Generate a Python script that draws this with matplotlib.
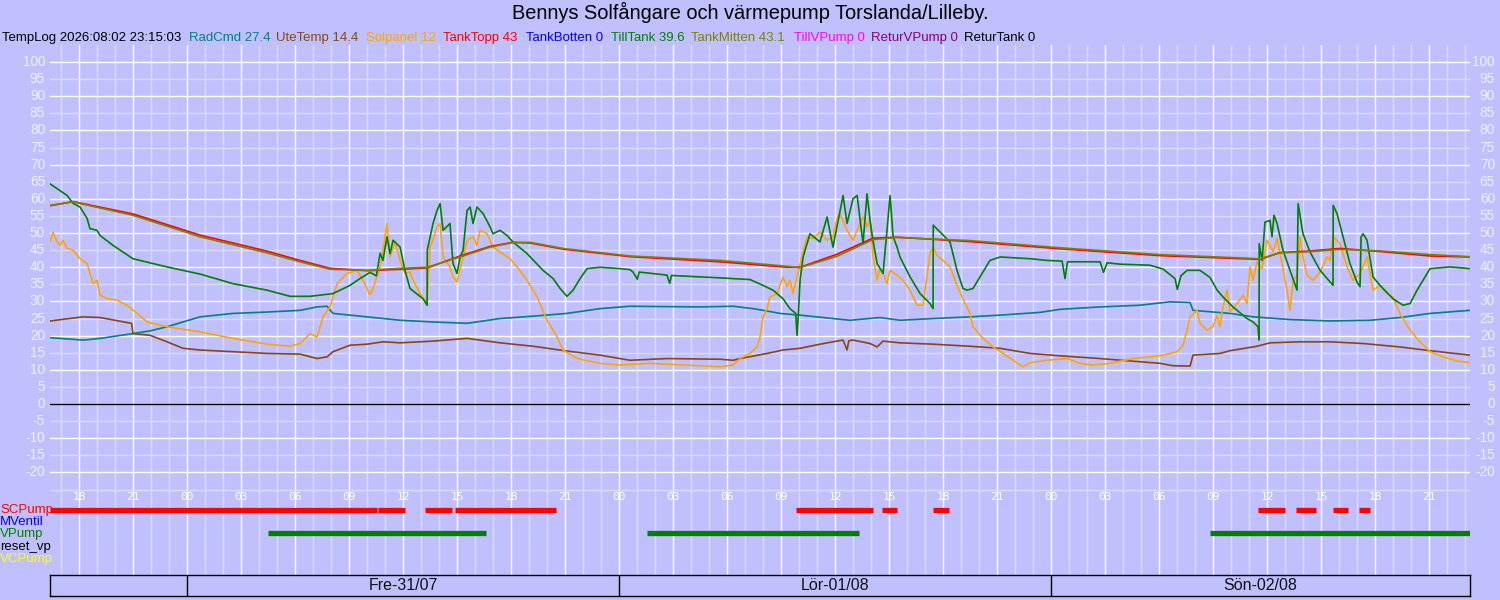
import matplotlib
matplotlib.use("Agg")
import matplotlib.pyplot as plt

plt.rcParams['font.family'] = ['Liberation Sans', 'DejaVu Sans']

BG = '#C0C0FF'
MINOR = '#DCDCFF'

# ---------------- data (hours since Fre 31/07 00:00) ----------------
mitten_t = [-7.63, -6.35, -3.02, 0.71, 4.43, 6.26, 7.93, 9.98, 11.82, 13.32, 15.15, 16.82, 18.09, 19.04,
            20.87, 24.59, 29.59, 33.32, 34.04, 36.09, 38.09, 39.43, 43.48, 48.48, 54.04, 59.59, 60.7,
            62.21, 64.04, 66.26, 69.04, 71.26]
mitten_v = [58.1, 59.1, 55.2, 48.9, 44.2, 41.6, 39.4, 39.1, 39.7, 40.0, 43.0, 45.9, 47.2, 47.3,
            45.5, 43.3, 42.0, 40.3, 39.9, 43.2, 48.1, 48.7, 47.8, 45.7, 43.7, 42.5, 44.2,
            44.5, 45.2, 44.8, 43.7, 43.1]
topp_v = [58.0, 59.2, 55.6, 49.4, 44.7, 42.0, 39.7, 39.0, 39.4, 39.8, 43.3, 46.1, 47.3, 47.1,
          45.3, 43.1, 41.6, 40.0, 40.0, 43.8, 48.5, 48.8, 47.5, 45.4, 43.4, 42.3, 44.3,
          44.7, 45.5, 44.6, 43.3, 43.0]

till_t = [-7.63, -7.24, -6.68, -6.35, -5.96, -5.57, -5.41, -5.02, -4.85, -4.13, -3.02, -1.13, 0.71, 2.54,
          4.43, 5.71, 6.82, 8.09, 9.04, 9.59, 10.15, 10.5, 10.71, 10.87, 11.09, 11.26, 11.43, 11.82,
          12.09, 12.37, 13.09, 13.32, 13.33, 13.65, 13.87, 14.04, 14.21, 14.59, 14.76, 14.98, 15.15,
          15.32, 15.54, 15.71, 15.87, 16.09, 16.43, 16.82, 16.98, 17.37, 17.76, 18.09, 18.87, 19.76,
          20.32, 20.71, 21.09, 21.43, 21.82, 22.21, 22.93, 24.04, 24.59, 24.76, 25.0, 25.1, 26.65,
          26.8, 26.9, 28.48, 29.59, 31.26, 31.98, 32.54, 33.09, 33.48, 33.80, 33.87, 33.95, 34.04,
          34.21, 34.59, 35.15, 35.54, 35.87, 36.43, 36.65, 36.98, 37.21, 37.54, 37.76, 37.93, 38.09,
          38.32, 38.65, 38.87, 39.04, 39.21, 39.43, 39.59, 40.15, 40.71, 41.26, 41.43, 41.44, 41.82,
          42.37, 42.76, 43.09, 43.32, 43.65, 44.04, 44.59, 45.15, 46.82, 47.76, 48.6, 48.76, 48.9,
          50.71, 50.9, 51.1, 51.82, 53.48, 54.2, 54.87, 55.0, 55.2, 55.54, 56.26, 56.82, 57.21,
          57.54, 58.09, 58.87, 59.21, 59.48, 59.54, 59.55, 59.71, 59.87, 60.15, 60.26, 60.37, 60.54,
          60.87, 61.26, 61.65, 61.71, 61.98, 62.37, 62.93, 63.65, 63.66, 63.87, 64.21, 64.59, 64.98,
          65.15, 65.21, 65.32, 65.54, 65.87, 66.26, 66.98, 67.54, 67.93, 68.32, 68.65, 69.04, 70.15,
          71.26]
till_v = [64.4, 63.0, 61.0, 58.7, 57.6, 54.3, 51.3, 50.8, 49.3, 46.4, 42.5, 40.1, 38.0, 35.2,
          33.3, 31.5, 31.5, 32.3, 34.7, 36.7, 38.5, 37.5, 44.1, 42.0, 48.9, 44.0, 47.9, 45.9,
          39.1, 33.8, 30.8, 28.9, 45.0, 52.8, 56.6, 58.6, 50.8, 52.8, 41.1, 38.2, 42.9,
          45.0, 56.6, 57.6, 52.8, 57.6, 55.7, 51.8, 49.8, 50.8, 49.3, 47.4, 44.0, 39.1,
          36.7, 33.8, 31.5, 33.3, 36.7, 39.6, 40.0, 39.6, 39.3, 38.6, 36.5, 38.6, 37.7,
          35.3, 37.6, 37.2, 36.9, 36.4, 34.7, 33.3, 30.8, 27.9, 26.5, 20.1, 26.5, 36.2,
          43.0, 49.8, 47.4, 54.7, 45.9, 61.0, 52.8, 60.0, 61.0, 46.9, 61.5, 53.7, 47.9,
          41.1, 38.2, 50.8, 61.0, 48.9, 45.9, 43.0, 37.2, 32.3, 29.4, 27.9, 52.3, 50.3,
          47.4, 39.1, 33.8, 33.3, 33.8, 37.2, 42.0, 43.0, 42.5, 42.0, 41.8, 36.7, 41.6,
          41.6, 38.5, 41.3, 40.9, 40.6, 39.5, 36.7, 33.5, 37.5, 39.1, 39.1, 37.0, 33.3,
          31.3, 28.4, 25.0, 24.0, 22.6, 18.7, 46.9, 42.0, 53.2, 53.7, 48.9, 55.2, 52.8,
          45.0, 39.1, 33.3, 58.6, 49.8, 44.5, 39.1, 34.7, 58.1, 55.7, 48.9, 41.1, 35.7,
          34.3, 48.9, 49.8, 47.9, 37.2, 34.7, 30.8, 28.9, 29.4, 33.3, 36.2, 39.6, 40.1,
          39.6]

sol_t = [-7.63, -7.46, -7.24, -7.07, -6.91, -6.68, -6.35, -5.96, -5.57, -5.41, -5.24, -5.02, -4.85, -4.46,
         -3.91, -3.35, -2.79, -2.24, -1.13, 0.71, 2.54, 4.43, 5.71, 6.26, 6.82, 7.21, 7.54, 7.93, 8.32,
         8.87, 9.43, 9.76, 10.15, 10.32, 10.71, 10.87, 11.09, 11.26, 11.54, 11.82, 12.09, 12.37, 12.54,
         12.93, 13.32, 13.48, 13.65, 13.87, 14.04, 14.21, 14.59, 14.76, 14.98, 15.32, 15.54, 15.87,
         16.09, 16.26, 16.65, 16.98, 17.37, 17.93, 18.32, 18.87, 19.43, 19.98, 20.54, 20.87, 21.65,
         22.93, 24.04, 25.71, 28.48, 29.59, 30.32, 30.71, 31.26, 31.65, 31.82, 31.98, 32.21, 32.37,
         32.76, 33.09, 33.32, 33.48, 33.65, 33.87, 34.21, 34.43, 34.76, 35.15, 35.54, 35.87, 36.09,
         36.26, 36.65, 36.98, 37.37, 37.54, 37.76, 37.93, 38.09, 38.32, 38.48, 38.65, 38.87, 39.04,
         39.43, 39.76, 40.15, 40.54, 40.87, 41.26, 41.43, 41.65, 41.98, 42.37, 42.76, 43.09, 43.48,
         43.65, 44.21, 44.76, 45.32, 45.87, 46.26, 46.43, 46.82, 47.76, 48.87, 49.59, 50.32, 51.26,
         52.54, 54.04, 54.98, 55.32, 55.54, 55.71, 56.09, 56.26, 56.65, 56.98, 57.21, 57.37, 57.54,
         57.76, 57.93, 58.32, 58.65, 58.87, 59.04, 59.21, 59.43, 59.71, 59.98, 60.32, 60.54, 60.87,
         61.09, 61.26, 61.43, 61.65, 61.82, 61.98, 62.21, 62.54, 62.93, 63.32, 63.48, 63.65, 64.04,
         64.43, 64.76, 65.15, 65.54, 65.87, 66.26, 66.65, 66.98, 67.37, 67.93, 68.48, 69.04, 69.76,
         70.54, 71.26]
sol_v = [47.4, 50.3, 47.4, 46.4, 47.9, 45.5, 45.0, 42.5, 41.1, 38.2, 35.2, 36.2, 31.8, 30.8,
         30.4, 28.9, 26.5, 24.0, 22.6, 21.1, 19.2, 17.5, 16.9, 17.7, 20.6, 19.6, 25.5, 28.4, 35.2,
         38.2, 39.1, 36.2, 32.0, 33.8, 40.1, 45.0, 52.8, 43.0, 47.4, 42.0, 38.2, 38.6, 36.2,
         32.3, 29.4, 45.9, 47.9, 51.8, 52.8, 43.0, 40.1, 37.2, 35.7, 43.0, 47.9, 48.9,
         46.4, 50.8, 49.8, 45.9, 44.5, 42.5, 40.1, 36.2, 31.3, 24.5, 19.6, 15.8, 13.3,
         11.9, 11.4, 11.9, 11.2, 10.9, 11.4, 13.3, 14.8, 16.7, 19.6, 25.5, 27.9, 31.3,
         32.3, 37.2, 34.3, 36.2, 32.3, 37.2, 44.5, 48.9, 48.4, 50.3, 47.9, 48.9, 54.2,
         55.7, 50.8, 47.9, 52.8, 54.7, 51.8, 53.7, 43.5, 36.2, 39.6, 38.2, 35.2, 39.1,
         37.7, 36.2, 33.3, 28.9, 28.9, 44.0, 45.9, 43.5, 42.0, 40.1, 34.7, 30.8, 26.5,
         22.6, 19.2, 16.7, 14.8, 12.8, 11.4, 10.9, 12.1, 12.8, 13.3, 11.9, 11.4, 11.9,
         13.3, 14.1, 15.3, 17.2, 21.6, 25.5, 27.4, 23.6, 21.6, 22.6, 26.0, 22.6, 28.4,
         33.3, 27.0, 29.4, 31.8, 29.4, 40.1, 36.2, 41.6, 39.6, 47.9, 44.5, 48.4, 39.6,
         33.3, 27.4, 36.2, 37.7, 48.9, 43.0, 37.7, 36.2, 38.6, 43.0, 42.0, 48.9, 46.9,
         40.1, 36.2, 38.2, 43.0, 33.3, 34.7, 32.3, 31.3, 26.5, 21.6, 18.2, 15.3, 13.8,
         12.6, 12.1]

rad_t = [-7.63, -5.79, -4.85, -3.02, -2.07, -1.13, -0.24, 0.71, 2.54, 4.43, 6.26, 7.21, 7.76, 8.09,
         9.98, 11.82, 13.65, 15.54, 17.37, 19.21, 21.09, 22.93, 24.59, 28.48, 30.32, 31.43, 32.21,
         32.93, 34.04, 35.87, 36.82, 38.48, 39.59, 41.43, 43.48, 45.15, 47.37, 48.48, 50.71, 52.93,
         54.59, 55.71, 55.87, 57.93, 59.21, 61.26, 63.48, 65.71, 67.37, 69.04, 71.26]
rad_v = [19.4, 18.7, 19.2, 20.6, 21.4, 22.6, 24.0, 25.5, 26.5, 26.9, 27.4, 28.4, 28.6, 26.5,
         25.5, 24.5, 24.0, 23.6, 25.0, 25.7, 26.5, 27.9, 28.6, 28.4, 28.6, 27.9, 27.2,
         26.5, 26.0, 25.0, 24.5, 25.3, 24.5, 25.0, 25.5, 26.0, 26.8, 27.7, 28.4, 28.9,
         29.9, 29.7, 27.4, 26.5, 25.5, 24.7, 24.3, 24.5, 25.3, 26.5, 27.4]

ute_t = [-7.63, -5.79, -4.85, -3.10, -3.02, -2.07, -1.13, -0.24, 0.71, 2.54, 4.43, 6.26, 7.21, 7.76,
         8.09, 9.04, 9.98, 10.87, 11.82, 13.65, 15.54, 17.37, 19.21, 21.09, 22.93, 24.59, 26.65,
         29.59, 30.32, 30.71, 32.21, 33.09, 34.04, 35.15, 35.87, 36.43, 36.65, 36.75, 36.98, 37.93,
         38.32, 38.65, 39.59, 41.43, 43.48, 45.15, 46.82, 48.48, 50.71, 52.37, 54.04, 54.76, 55.71,
         55.87, 57.37, 57.93, 59.43, 60.15, 61.82, 63.48, 65.32, 67.37, 69.04, 71.26]
ute_v = [24.3, 25.5, 25.3, 23.6, 20.6, 20.1, 18.2, 16.3, 15.8, 15.3, 14.8, 14.6, 13.3, 13.8,
         15.3, 17.2, 17.5, 18.2, 17.9, 18.4, 19.2, 17.9, 16.9, 15.5, 14.3, 12.8, 13.3,
         13.1, 12.8, 13.3, 14.8, 15.8, 16.3, 17.5, 18.2, 18.7, 15.8, 18.5, 18.7, 17.7,
         16.7, 18.4, 17.9, 17.5, 16.9, 16.3, 14.8, 14.1, 13.3, 12.6, 11.9, 11.2, 11.1,
         14.3, 14.8, 15.6, 16.9, 17.9, 18.2, 18.2, 17.7, 16.7, 15.6, 14.3]

# digital signals (on intervals, hours)
scpump_start = [-7.63, 10.59, 13.2, 14.87, 33.82, 38.6, 41.4, 59.5, 61.6, 63.65, 65.1]
scpump_end = [10.54, 12.09, 14.7, 20.48, 38.1, 39.4, 42.3, 61.0, 62.7, 64.5, 65.7]
vpump_start = [4.48, 25.55, 56.8]
vpump_end = [16.6, 37.3, 71.26]

legend_items = [("TempLog 2026:08:02 23:15:03", 'black'), ("RadCmd 27.4", '#008080'),
                ("UteTemp 14.4", '#8B4513'), ("Solpanel 12", '#FFA500'), ("TankTopp 43", '#FF0000'),
                ("TankBotten 0", '#0000FF'), ("TillTank 39.6", '#008000'), ("TankMitten 43.1", '#808000'),
                ("TillVPump 0", '#FF00FF'), ("ReturVPump 0", '#800080'), ("ReturTank 0", 'black')]
legend_x = [2, 189, 276, 366, 443, 526, 611, 691, 794, 871, 964]

digital_labels = [("SCPump", '#FF0000'), ("MVentil", '#0000FF'), ("VPump", '#008000'),
                  ("reset_vp", 'black'), ("VCPump", '#FFFF00')]
digital_y = [-31.0, -34.5, -38.0, -41.7, -45.3]

days = ["Fre-31/07", "Lör-01/08", "Sön-02/08"]
day_start = [0, 24, 48]

# ---------------- figure ----------------
fig = plt.figure(figsize=(15, 6), dpi=100, facecolor=BG)
W, H = 1500.0, 600.0
ax = fig.add_axes([50 / W, 25 / H, 1420 / W, 530 / H])
ax.set_facecolor(BG)
for s in ax.spines.values():
    s.set_visible(False)
ax.set_xticks([])
ax.set_yticks([])
xmin, xmax = -7.63, 71.26
ax.set_xlim(xmin, xmax)
ax.set_ylim(-50, 105)

# grid
for h in range(-7, 72):
    ax.axvline(h, color='white' if h % 3 == 0 else MINOR, lw=1.0, zorder=1)
for v in range(-20, 101, 5):
    ax.axhline(v, color='white' if v % 10 == 0 else MINOR, lw=1.0, zorder=1)
ax.axhline(-25.1, color=MINOR, lw=1.0, zorder=1)
ax.axhline(0, color='black', lw=1.0, zorder=3)

# y labels both sides
yt = ax.get_yaxis_transform()
for v in range(-20, 101, 5):
    ax.text(-0.0035, v, str(v), transform=yt, ha='right', va='center', fontsize=9.8,
            color='#F0F0FF', clip_on=False)
    ax.text(1.0176, v, str(v), transform=yt, ha='right', va='center', fontsize=9.8,
            color='#F0F0FF', clip_on=False)

# time labels
for h in range(-6, 72, 3):
    ax.text(h, -27.3, f"{h % 24:02d}", ha='center', va='center', fontsize=8,
            family='DejaVu Sans Mono', color='white')

# series
lw = 1.2
ax.plot(rad_t, rad_v, color='#008080', lw=lw, zorder=4)
ax.plot(ute_t, ute_v, color='#8B4513', lw=lw, zorder=4)
ax.plot(sol_t, sol_v, color='#FFA500', lw=lw, zorder=4)
ax.plot(mitten_t, topp_v, color='#FF0000', lw=lw, zorder=4)
ax.plot(till_t, till_v, color='#008000', lw=lw, zorder=4)
ax.plot(mitten_t, mitten_v, color='#808000', lw=lw, zorder=4)

# digital
ax.hlines([digital_y[0]] * len(scpump_start), scpump_start, scpump_end, colors='#FF0000',
          lw=3.8, capstyle='butt', zorder=4)
ax.hlines([digital_y[2] + 0.3] * len(vpump_start), vpump_start, vpump_end, colors='#008000',
          lw=3.8, capstyle='butt', zorder=4)
for (lab, col), y in zip(digital_labels, digital_y):
    ax.text(-50 / 1420 * (xmax - xmin) + xmin, y, lab, color=col, fontsize=9.5,
            ha='left', va='center', clip_on=False)

# header texts
fig.text(0.5, 1 - 12 / H, "Bennys Solfångare och värmepump Torslanda/Lilleby.", ha='center',
         va='center', fontsize=14.4, color='black')
for (lab, col), x in zip(legend_items, legend_x):
    fig.text(x / W, 1 - 38 / H, lab, ha='left', va='center', fontsize=9.5, color=col)

# day box
bx = fig.add_axes([50 / W, 4 / H, 1420 / W, 21 / H])
bx.set_facecolor(BG)
bx.set_xlim(xmin, xmax)
bx.set_ylim(0, 1)
bx.set_xticks([])
bx.set_yticks([])
for s in bx.spines.values():
    s.set_color('black')
    s.set_linewidth(1.0)
for d, st in zip(days, day_start):
    bx.axvline(st, color='black', lw=1.0)
    end = min(st + 24, xmax)
    bx.text((st + end) / 2, 0.5, d, ha='center', va='center', fontsize=11.5, color='#111111')

fig.savefig("out.png", dpi=100, facecolor=BG)
